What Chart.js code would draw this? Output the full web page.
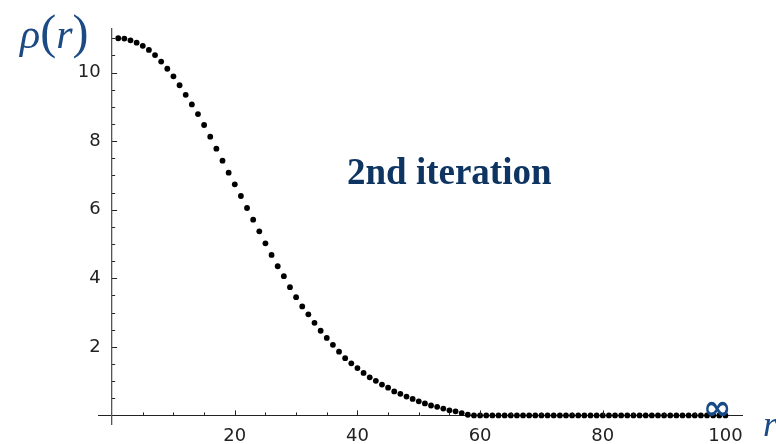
<!DOCTYPE html>
<html>
<head>
<meta charset="utf-8">
<script src="https://cdn.jsdelivr.net/npm/chart.js@4/dist/chart.umd.min.js"></script>
<style>
  html, body { margin: 0; padding: 0; background: #fff; }
  #wrap { position: relative; width: 776px; height: 444px; overflow: hidden; }
  canvas { position: absolute; left: 0; top: 0; }
  .lbl { position: absolute; line-height: 1; white-space: nowrap; }
</style>
</head>
<body>
<div id="wrap">
  <canvas id="c" width="776" height="444"></canvas>
  <div class="lbl" id="ylab" style="left:20px; top:8px; font-family:'Liberation Serif'; color:#1b4a84;"><span style="font-style:italic; font-size:42px;">ρ</span><span style="font-size:48px;">(</span><span style="font-style:italic; font-size:42px;">r</span><span style="font-size:48px;">)</span></div>
  <div class="lbl" id="xlab" style="left:763px; top:406px; font-family:'Liberation Serif'; font-style:italic; font-size:36px; color:#1b4a84;">r</div>
  <div class="lbl" id="inf" style="left:703px; top:390px; font-family:'DejaVu Sans'; font-weight:bold; font-size:34px; color:#174a86;">∞</div>
  <div class="lbl" id="note" style="left:347px; top:153px; font-family:'Liberation Serif'; font-weight:bold; font-size:37px; color:#0e3462;">2nd iteration</div>
</div>
<script>
// radius values
const rValues = [1,2,3,4,5,6,7,8,9,10,11,12,13,14,15,16,17,18,19,20,
  21,22,23,24,25,26,27,28,29,30,31,32,33,34,35,36,37,38,39,40,
  41,42,43,44,45,46,47,48,49,50,51,52,53,54,55,56,57,58,59,60,
  61,62,63,64,65,66,67,68,69,70,71,72,73,74,75,76,77,78,79,80,
  81,82,83,84,85,86,87,88,89,90,91,92,93,94,95,96,97,98,99,100];
// density values rho(r), 2nd iteration
const rhoValues = [11.00,10.99,10.94,10.87,10.78,10.66,10.51,10.32,10.11,9.89,
  9.63,9.35,9.07,8.79,8.47,8.13,7.78,7.43,7.08,6.74,
  6.40,6.05,5.71,5.37,5.02,4.68,4.35,4.06,3.74,3.45,
  3.18,2.95,2.70,2.47,2.26,2.06,1.86,1.67,1.52,1.38,
  1.24,1.11,1.01,0.90,0.81,0.70,0.63,0.55,0.48,0.41,
  0.35,0.29,0.25,0.20,0.15,0.12,0.07,0.02,0,0,
  0,0,0,0,0,0,0,0,0,0,
  0,0,0,0,0,0,0,0,0,0,
  0,0,0,0,0,0,0,0,0,0,
  0,0,0,0,0,0,0,0,0,0];
const xTickLabels = [20, 40, 60, 80, 100];
const yTickLabels = [2, 4, 6, 8, 10];

const points = rValues.map((r, i) => ({ x: r, y: rhoValues[i] }));

const tickMarks = {
  id: 'tickMarks',
  afterDraw(chart) {
    const ctx = chart.ctx, xs = chart.scales.x, ys = chart.scales.y;
    const x0 = xs.getPixelForValue(0), y0 = ys.getPixelForValue(0);
    ctx.save();
    ctx.strokeStyle = '#222';
    ctx.lineWidth = 1;
    ctx.beginPath();
    for (let v = 5; v <= 100; v += 5) {
      const len = (v % 20 === 0) ? 5 : 3;
      const px = Math.round(xs.getPixelForValue(v)) + 0.5;
      ctx.moveTo(px, y0); ctx.lineTo(px, y0 - len);
    }
    for (let v = 0.5; v <= 11; v += 0.5) {
      const len = (Math.abs(v % 2) < 1e-9) ? 5 : 3;
      const py = Math.round(ys.getPixelForValue(v)) + 0.5;
      ctx.moveTo(x0, py); ctx.lineTo(x0 + len, py);
    }
    ctx.stroke();
    ctx.restore();
  }
};

new Chart(document.getElementById('c'), {
  type: 'scatter',
  data: {
    datasets: [{
      data: points,
      showLine: false,
      pointRadius: 2.9,
      pointHoverRadius: 2.9,
      pointBackgroundColor: '#000',
      pointBorderWidth: 0,
      clip: false
    }]
  },
  options: {
    responsive: false,
    animation: false,
    devicePixelRatio: 1,
    layout: { padding: { left: 98, right: 34, top: 29, bottom: 20 } },
    plugins: { legend: { display: false }, tooltip: { enabled: false } },
    scales: {
      x: {
        type: 'linear',
        position: { y: 0 },
        min: -2.3, max: 102.7,
        grid: { display: false, drawTicks: false },
        border: { display: true, color: '#222', width: 1 },
        afterBuildTicks: (s) => { s.ticks = xTickLabels.map(v => ({ value: v })); },
        ticks: { padding: 10, color: '#222', font: { family: 'DejaVu Sans', size: 18 } }
      },
      y: {
        type: 'linear',
        position: { x: 0 },
        min: -0.25, max: 11.27,
        grid: { display: false, drawTicks: false },
        border: { display: true, color: '#555', width: 1.3 },
        afterBuildTicks: (s) => { s.ticks = yTickLabels.map(v => ({ value: v })); },
        ticks: {
          color: '#222',
          font: { family: 'DejaVu Sans', size: 18 },
          callback: (v) => String(v) + '  '
        }
      }
    }
  },
  plugins: [tickMarks]
});
</script>
</body>
</html>
